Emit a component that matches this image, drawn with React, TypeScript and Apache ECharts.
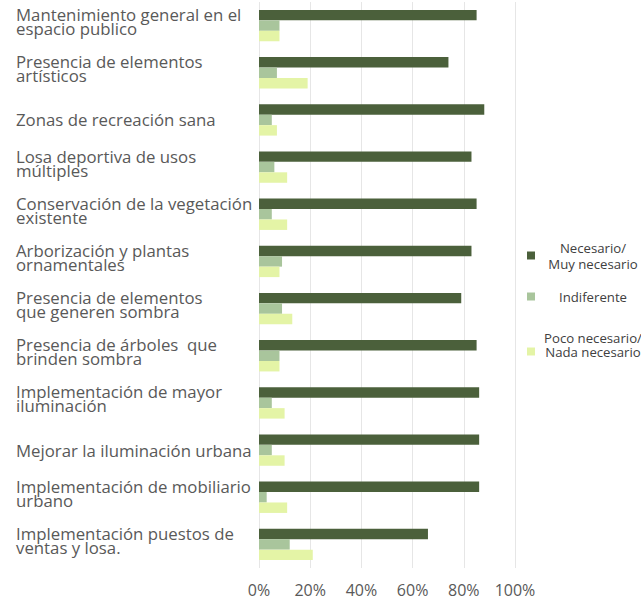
import React, { useEffect, useRef } from "react";
import * as echarts from "echarts";

const categories: string[] = [
  "Mantenimiento general en el\nespacio publico",
  "Presencia de elementos\nartísticos",
  "Zonas de recreación sana",
  "Losa deportiva de usos\nmúltiples",
  "Conservación de la vegetación\nexistente",
  "Arborización y plantas\nornamentales",
  "Presencia de elementos\nque generen sombra",
  "Presencia de árboles  que\nbrinden sombra",
  "Implementación de mayor\niluminación",
  "Mejorar la iluminación urbana",
  "Implementación de mobiliario\nurbano",
  "Implementación puestos de\nventas y losa.",
];

const seriesNames: string[] = [
  "Necesario/\nMuy necesario",
  "Indiferente",
  "Poco necesario/\nNada necesario",
];

const necesario: number[] = [85, 74, 88, 83, 85, 83, 79, 85, 86, 86, 86, 66];
const indiferente: number[] = [8, 7, 5, 6, 5, 9, 9, 8, 5, 5, 3, 12];
const pocoNecesario: number[] = [8, 19, 7, 11, 11, 8, 13, 8, 10, 10, 11, 21];

const xTicks: number[] = [0, 20, 40, 60, 80, 100];

const colors = ["#4b603b", "#a9c59c", "#e4f4a6"];

export default function App() {
  const ref = useRef<HTMLDivElement>(null);

  useEffect(() => {
    if (!ref.current) return;
    const chart = echarts.init(ref.current, undefined, { renderer: "svg" });
    const font = "'Open Sans', 'Noto Sans', sans-serif";

    const legendFormatter = (lh: number) => (name: string) =>
      name
        .split("\n")
        .map((l) => `{c${lh}|${l}}`)
        .join("\n");

    const richFor = (lh: number) => ({
      ["c" + lh]: {
        width: 106,
        align: "center",
        lineHeight: lh,
        fontSize: 13.2,
        fontFamily: font,
        color: "#404040",
      },
    });

    const makeLegend = (idx: number, top: number, lh: number, padding: number[]) => ({
      show: true,
      orient: "vertical",
      left: 527,
      top,
      padding: 0,
      itemWidth: 8,
      itemHeight: 8,
      itemGap: 0,
      icon: "rect",
      selectedMode: false,
      data: [{ name: seriesNames[idx] }],
      formatter: legendFormatter(lh),
      textStyle: { rich: richFor(lh), padding },
    });

    const mkSeries = (idx: number, data: number[]) => ({
      type: "bar",
      name: seriesNames[idx],
      data,
      itemStyle: { color: colors[idx] },
      barGap: "0%",
      barCategoryGap: "33.5%",
    });

    const catFormatter = (v: string) => {
      const lines = v.split("\n");
      const body = lines.map((l) => `{t|${l}}`).join("\n");
      return lines.length > 1 ? `${body}\n{g| }` : body;
    };

    chart.setOption({
      animation: false,
      backgroundColor: "#ffffff",
      textStyle: { fontFamily: font },
      grid: {
        left: 259,
        right: 126,
        top: 2,
        bottom: 36,
        containLabel: false,
        outerBoundsMode: "none",
      },
      legend: [
        makeLegend(0, 241, 16, [0, 0, 0, 0]),
        makeLegend(1, 290, 16, [0, 0, 0, 0]),
        makeLegend(2, 331, 14, [0, 0, 14, 0]),
      ],
      xAxis: {
        type: "value",
        min: xTicks[0],
        max: xTicks[xTicks.length - 1],
        interval: 20,
        axisLine: { show: false },
        axisTick: { show: false },
        splitLine: { show: true, lineStyle: { color: "#e6e6e6", width: 1 } },
        axisLabel: {
          formatter: "{value}%",
          fontSize: 16,
          color: "#595959",
          margin: 14,
          fontFamily: font,
        },
      },
      yAxis: {
        type: "category",
        inverse: true,
        data: categories,
        axisLine: { show: false },
        axisTick: { show: false },
        axisLabel: {
          align: "left",
          margin: 243,
          interval: 0,
          formatter: catFormatter,
          rich: {
            t: {
              fontSize: 16.8,
              lineHeight: 14,
              color: "#595959",
              fontFamily: font,
              align: "left",
            },
            g: { fontSize: 1, lineHeight: 8 },
          },
        },
      },
      series: [
        mkSeries(0, necesario),
        mkSeries(1, indiferente),
        mkSeries(2, pocoNecesario),
      ],
    });

    return () => chart.dispose();
  }, []);

  return (
    <div
      ref={ref}
      style={{ position: "absolute", left: 0, top: 0, width: 641, height: 604 }}
    />
  );
}
